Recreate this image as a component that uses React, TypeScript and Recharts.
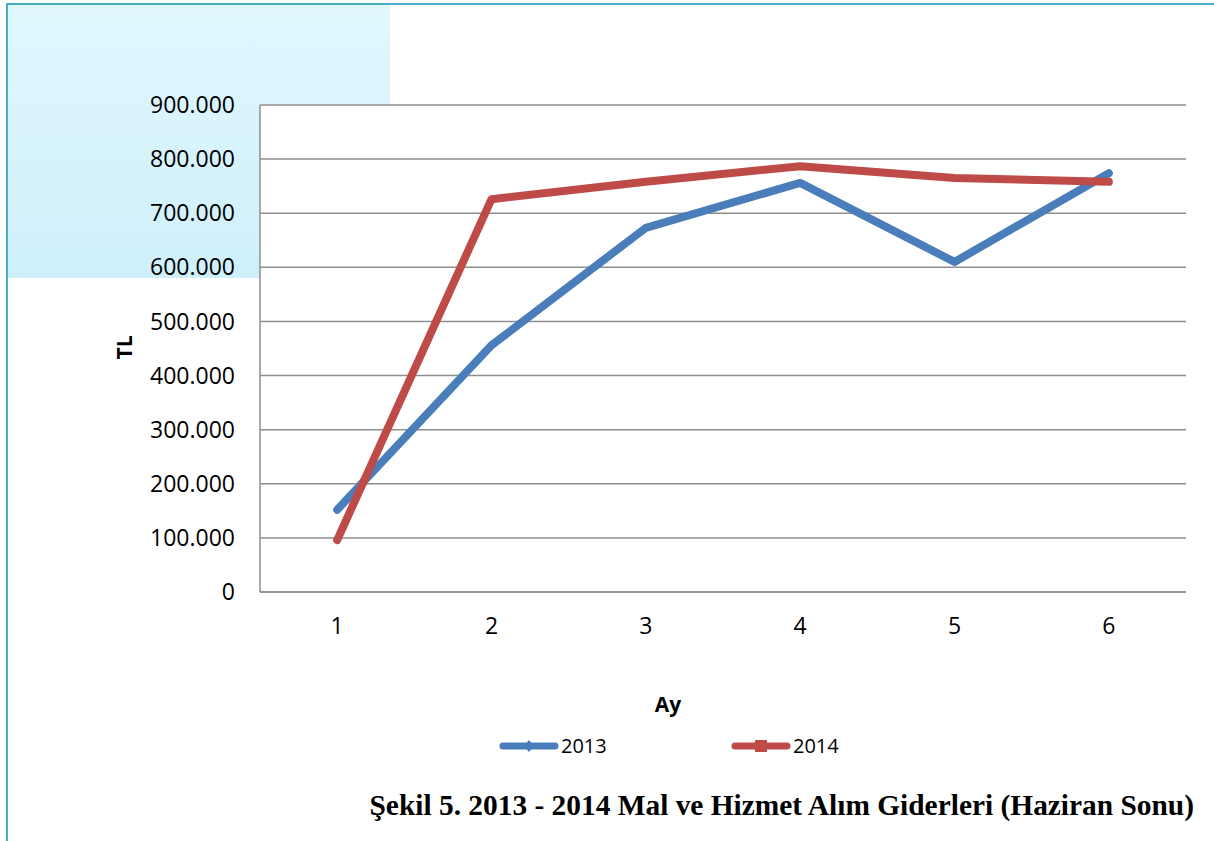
import React from 'react';
import { LineChart, Line, XAxis, YAxis, CartesianGrid } from 'recharts';

const months = ['1', '2', '3', '4', '5', '6'];
const values2013 = [152000, 456000, 673000, 756000, 610000, 774000];
const values2014 = [96000, 726000, 758000, 787000, 765000, 758000];
const yTicks = [0, 100000, 200000, 300000, 400000, 500000, 600000, 700000, 800000, 900000];

const seriesNames = ['2013', '2014'];
const seriesColors = ['#4A7EBB', '#BE4B48'];

const data = months.map((m, i) => ({ month: m, s2013: values2013[i], s2014: values2014[i] }));

const fmt = (v: number) => (v === 0 ? '0' : v.toLocaleString('de-DE'));

const tickFont = { fontFamily: 'Open Sans', fontSize: 23, fill: '#000' };

export default function App() {
  return (
    <div style={{ position: 'absolute', left: 0, top: 0, width: 1214, height: 841, background: '#fff', overflow: 'hidden' }}>
      <div style={{ position: 'absolute', left: 8, top: 5, width: 382, height: 273, background: 'linear-gradient(#e0f7fe, #cff0fb)' }} />
      <div style={{ position: 'absolute', left: 6, top: 3, width: 2, height: 838, background: '#4BACC6' }} />
      <div style={{ position: 'absolute', left: 6, top: 3, width: 1208, height: 2, background: '#4BACC6' }} />
      <div style={{ position: 'absolute', left: 0, top: 0 }}>
        <LineChart width={1214} height={841} data={data} margin={{ top: 105, right: 28, left: 160, bottom: 149 }}>
          <CartesianGrid vertical={false} stroke="#8e8e8e" strokeWidth={1.5} fill="#ffffff" />
          <XAxis
            dataKey="month"
            scale="band"
            height={100}
            tickLine={false}
            tickSize={0}
            tickMargin={26}
            axisLine={{ stroke: '#8e8e8e', strokeWidth: 1.5 }}
            tick={tickFont}
          />
          <YAxis
            width={100}
            domain={[0, 900000]}
            ticks={yTicks}
            interval={0}
            tickFormatter={fmt}
            tickLine={false}
            tickSize={0}
            tickMargin={25}
            axisLine={{ stroke: '#8e8e8e', strokeWidth: 1.5 }}
            tick={tickFont}
          />
          <Line type="linear" dataKey="s2013" name={seriesNames[0]} stroke={seriesColors[0]} strokeWidth={8} strokeLinecap="round" strokeLinejoin="round" dot={false} activeDot={false} isAnimationActive={false} />
          <Line type="linear" dataKey="s2014" name={seriesNames[1]} stroke={seriesColors[1]} strokeWidth={8} strokeLinecap="round" strokeLinejoin="round" dot={false} activeDot={false} isAnimationActive={false} />
        </LineChart>
      </div>
      {/* axis titles */}
      <div style={{ position: 'absolute', left: 568, top: 694, width: 200, textAlign: 'center', fontFamily: 'Open Sans', fontWeight: 700, fontSize: 21, lineHeight: '21px', color: '#000' }}>Ay</div>
      <div style={{ position: 'absolute', left: 74, top: 337, width: 100, height: 21, textAlign: 'center', fontFamily: 'Open Sans', fontWeight: 700, fontSize: 21, lineHeight: '21px', color: '#000', transform: 'rotate(-90deg)' }}>TL</div>
      {/* legend */}
      <svg style={{ position: 'absolute', left: 0, top: 730 }} width={1214} height={32}>
        {seriesNames.map((name, i) => {
          const x0 = i === 0 ? 500 : 732;
          const cx = x0 + 29;
          return (
            <g key={name}>
              <line x1={x0 + 3} y1={16} x2={x0 + 55} y2={16} stroke={seriesColors[i]} strokeWidth={7} strokeLinecap="round" />
              {i === 0 ? (
                <polygon points={`${cx},${10} ${cx + 5},${16} ${cx},${22} ${cx - 5},${16}`} fill={seriesColors[i]} />
              ) : (
                <rect x={cx - 6} y={10} width={12} height={12} fill={seriesColors[i]} />
              )}
              <text x={x0 + 61} y={23} fontFamily="Open Sans" fontSize={20} fill="#000">{name}</text>
            </g>
          );
        })}
      </svg>
      {/* caption */}
      <div style={{ position: 'absolute', right: 20, top: 791, whiteSpace: 'nowrap', fontFamily: 'Liberation Serif', fontWeight: 700, fontSize: 29.4, lineHeight: '29px', color: '#000' }}>
        Şekil 5. 2013 - 2014 Mal ve Hizmet Alım Giderleri (Haziran Sonu)
      </div>
    </div>
  );
}
